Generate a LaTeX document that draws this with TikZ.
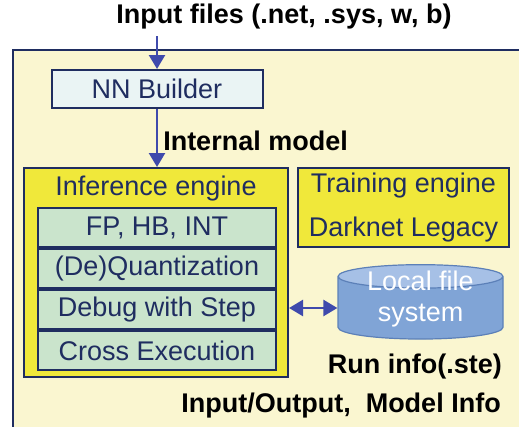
\documentclass[tikz,border=0pt]{standalone}
\usepackage{fontspec}
\setmainfont{Liberation Sans}
\usetikzlibrary{arrows.meta,positioning,shapes.geometric}

\definecolor{navy}{RGB}{31,45,96}
\definecolor{pale}{RGB}{250,246,208}
\definecolor{bright}{RGB}{240,232,58}
\definecolor{mint}{RGB}{202,228,204}
\definecolor{ice}{RGB}{234,244,244}
\definecolor{flow}{RGB}{63,74,172}
\definecolor{disk}{RGB}{128,164,214}
\definecolor{disktop}{RGB}{166,192,230}
\definecolor{diskline}{RGB}{92,128,184}

\begin{document}
\begin{tikzpicture}[x=1pt,y=-1pt]
  \tikzset{big/.style={font=\fontsize{27}{32}\selectfont}}
  \tikzset{label/.style={big, font=\fontsize{27}{32}\selectfont\bfseries, inner sep=0pt}}
  \tikzset{builder/.style={rectangle, draw=navy, line width=2pt, fill=ice,
      minimum width=211pt, minimum height=38pt, text=navy, big}}
  \tikzset{engine/.style={rectangle, draw=navy, line width=2pt, fill=bright, text=navy, big}}
  \tikzset{layer/.style={rectangle, draw=navy, line width=2pt, fill=mint,
      minimum width=238pt, minimum height=39pt, inner sep=0pt, text=navy, big}}
  \tikzset{store/.style={cylinder, shape border rotate=90, aspect=0.22, draw=diskline,
      line width=1.2pt, cylinder uses custom fill, cylinder body fill=disk,
      cylinder end fill=disktop, minimum width=165pt, minimum height=70pt,
      inner sep=0pt, align=center, text=white, text height=33pt,
      font=\fontsize{27}{31}\selectfont}}
  \tikzset{tip/.style={-{Triangle[length=14pt,width=16pt]}}}
  \tikzset{flowline/.style={draw=flow, line width=2.5pt, tip}}

  \clip (0,0) rectangle (519,426);
  \fill[pale] (13,50) rectangle (530,440);
  \draw[navy, line width=2pt] (13,440) -- (13,50) -- (530,50);

  \node[label] (title) at (284,17) {Input files (.net, .sys, w, b)};
  \coordinate (feed) at (157,36);
  \node[builder] (nnb) at (157,89) {NN Builder};

  \node[engine, minimum width=264pt, minimum height=209pt] (infer) at (156,272.5) {};
  \node[big, text=navy, inner sep=0pt] (infertitle) at (156,189) {Inference engine};
  \node[layer] (fp) at (157,227.5) {FP, HB, INT};
  \node[layer, below=0pt of fp] (quant) {(De)Quantization};
  \node[layer, below=0pt of quant] (debug) {Debug with Step};
  \node[layer, below=0pt of debug] (cross) {Cross Execution};

  \node[engine, minimum width=211pt, minimum height=79pt, align=center,
        font=\fontsize{27}{44}\selectfont] (train) at (403.5,207.5) {Training engine\\Darknet Legacy};

  \node[store] (disk) at (420.5,308) {Local file\\system};

  \node[label, anchor=east] (runinfo) at (502,367) {Run info(.ste)};
  \node[label] (model) at (341,406) {Input/Output,\ \ Model Info};

  \draw[flowline] (feed) -- (nnb.north);
  \draw[flowline] (nnb.south) -- (infer.north -| nnb.south)
    node[label, right, pos=0.55, xshift=5pt] (internal) {Internal model};
  \draw[flowline, {Triangle[length=14pt,width=16pt]}-{Triangle[length=14pt,width=16pt]}]
    (infer.east |- disk.west) -- (disk.west);
\end{tikzpicture}
\end{document}
